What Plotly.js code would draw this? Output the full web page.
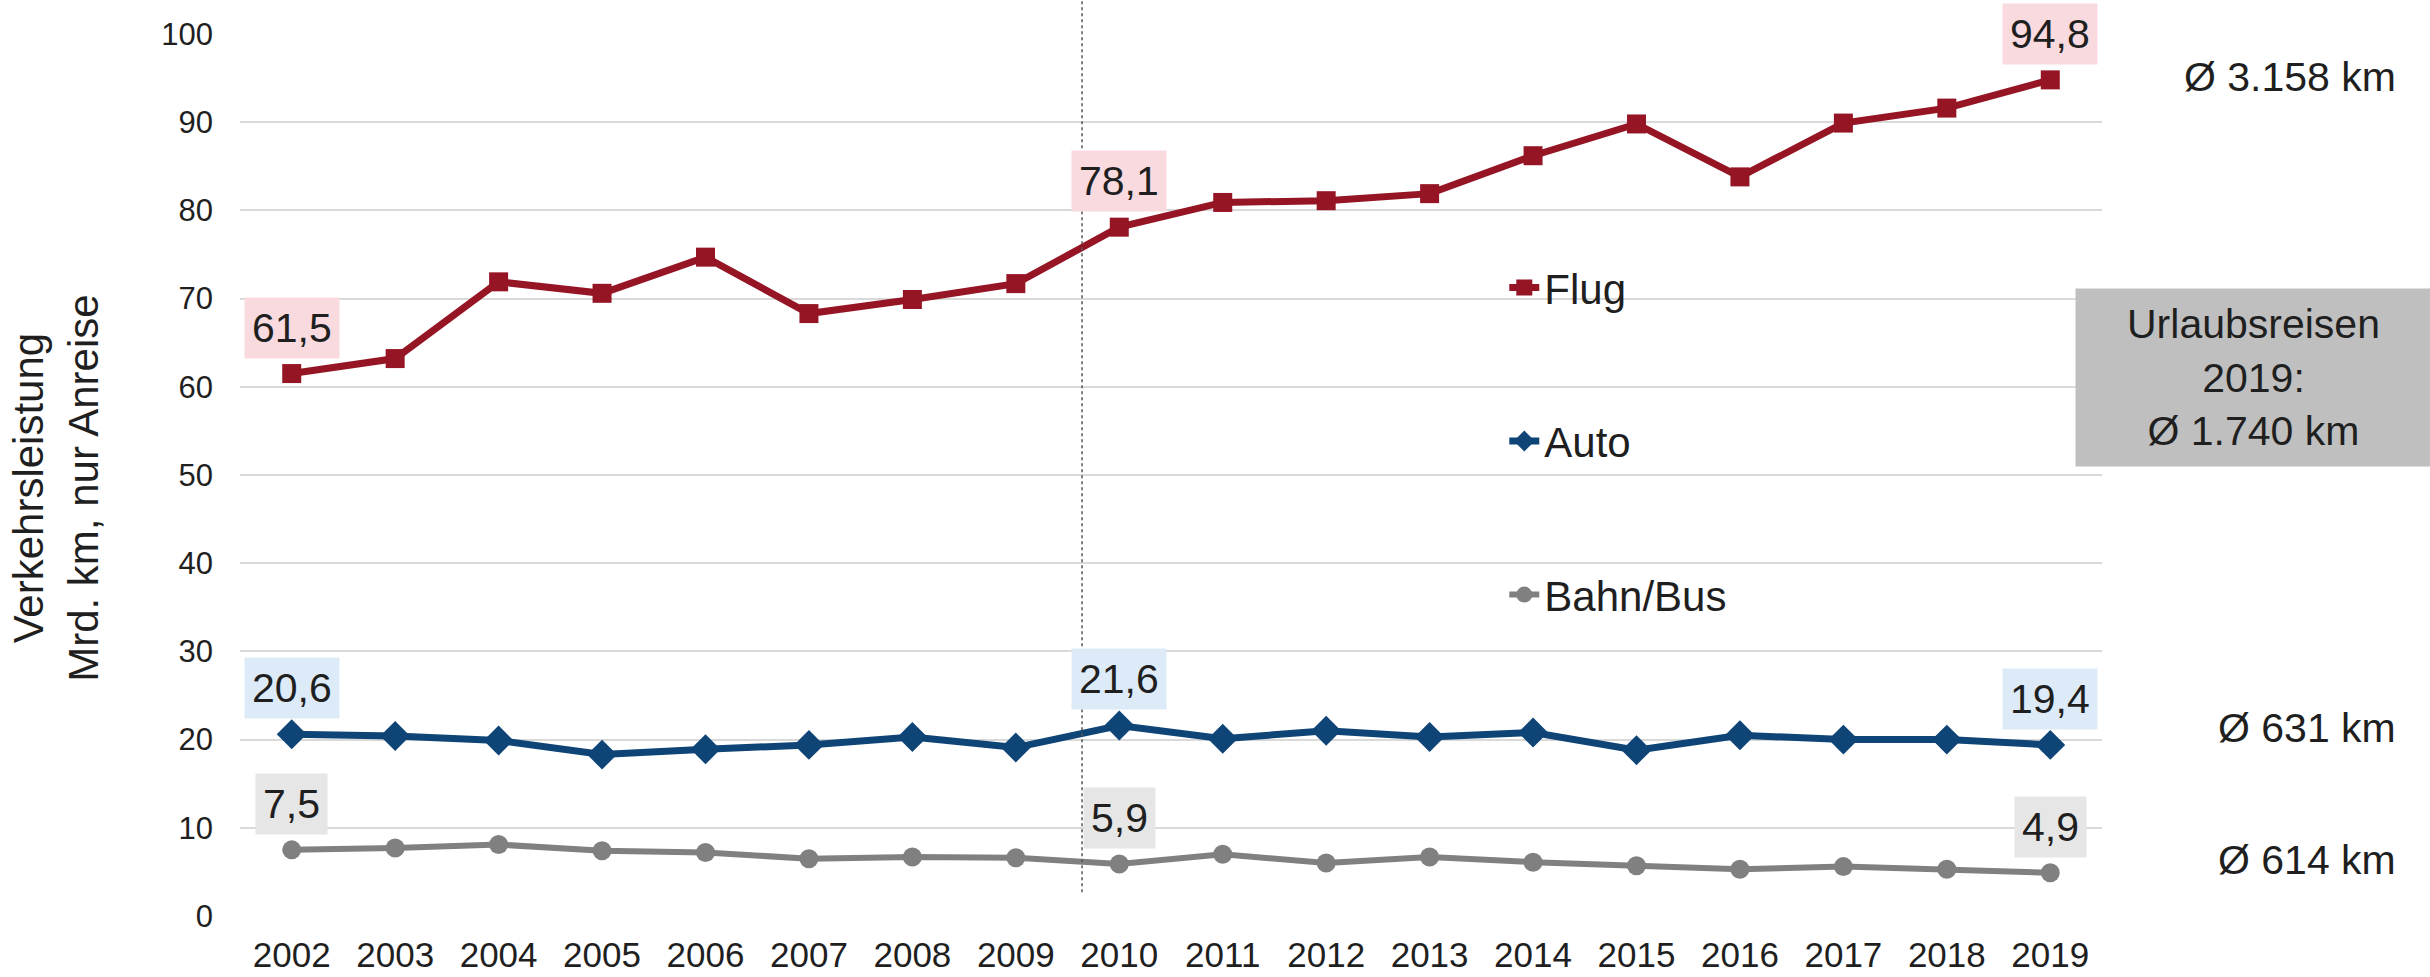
<!DOCTYPE html>
<html>
<head>
<meta charset="utf-8">
<script src="https://cdn.plot.ly/plotly-3.0.1.min.js"></script>
<style>
  html, body { margin: 0; padding: 0; background: #ffffff; }
  #chart { width: 2430px; height: 977px; }
</style>
</head>
<body>
<div id="chart"></div>
<script>
// Verkehrsleistung der Urlaubsreisen (nur Anreise), Mrd. km
const years = [2002, 2003, 2004, 2005, 2006, 2007, 2008, 2009, 2010,
               2011, 2012, 2013, 2014, 2015, 2016, 2017, 2018, 2019];
const flug = [61.5, 63.2, 71.9, 70.6, 74.7, 68.3, 69.9, 71.7, 78.1,
              80.9, 81.1, 81.9, 86.2, 89.8, 83.8, 89.9, 91.6, 94.8];
const auto = [20.6, 20.4, 19.9, 18.3, 18.9, 19.4, 20.3, 19.1, 21.6,
              20.1, 21.0, 20.3, 20.8, 18.8, 20.5, 20.0, 20.0, 19.4];
const bahnBus = [7.5, 7.7, 8.1, 7.4, 7.2, 6.5, 6.7, 6.6, 5.9,
                 7.0, 6.0, 6.7, 6.1, 5.7, 5.3, 5.6, 5.3, 4.9];
const yearLabels = years.map(String);
const yTicks = [0, 10, 20, 30, 40, 50, 60, 70, 80, 90, 100];
// years that carry a value label
const labelledYears = [2002, 2010, 2019];
// average distance per trip, by mode (right-hand notes)
const avgFlug = 'Ø 3.158 km';
const avgAuto = 'Ø 631 km';
const avgBahn = 'Ø 614 km';
const boxText = 'Urlaubsreisen<br>2019:<br>Ø 1.740 km';
const yTitle = 'Verkehrsleistung<br>Mrd. km, nur Anreise';
const splitYear = 2009.64;

const FONT = 'Liberation Sans, Arial, sans-serif';
const TEXT = '#1f1f1f';

const series = [
  { name: 'Flug', y: flug, color: '#951525', symbol: 'square', size: 19, width: 7, label: '#F9DADF' },
  { name: 'Auto', y: auto, color: '#0F4477', symbol: 'diamond', size: 23, width: 7, label: '#DDEBF8' },
  { name: 'Bahn/Bus', y: bahnBus, color: '#808080', symbol: 'circle', size: 19, width: 6, label: '#E6E6E6' }
];

const traces = series.map((s, i) => ({
  type: 'scatter',
  mode: 'lines+markers',
  name: s.name,
  legendgroup: 'g' + i,
  x: years,
  y: s.y,
  line: { color: s.color, width: s.width },
  marker: { color: s.color, symbol: s.symbol, size: s.size },
  hoverinfo: 'x+y'
}));

const fmt = v => v.toFixed(1).replace('.', ',');

const annotations = [];
series.forEach(s => {
  labelledYears.forEach(yr => {
    const idx = years.indexOf(yr);
    annotations.push({
      xref: 'x', yref: 'y', x: yr, y: s.y[idx],
      text: fmt(s.y[idx]),
      showarrow: false, yshift: 46,
      bgcolor: s.label, borderpad: 7,
      font: { family: FONT, size: 41, color: TEXT }
    });
  });
});

annotations.push(
  // y-axis title, placed left of the tick labels
  { xref: 'paper', yref: 'paper', x: -0.0985, y: 0.485, xanchor: 'center', yanchor: 'middle',
    text: yTitle, textangle: -90, showarrow: false,
    font: { family: FONT, size: 42, color: TEXT } },
  { xref: 'paper', yref: 'paper', x: 1.159, y: 0.951, xanchor: 'right', yanchor: 'middle',
    text: avgFlug, showarrow: false, font: { family: FONT, size: 41, color: TEXT } },
  { xref: 'paper', yref: 'paper', x: 1.159, y: 0.213, xanchor: 'right', yanchor: 'middle',
    text: avgAuto, showarrow: false, font: { family: FONT, size: 41, color: TEXT } },
  { xref: 'paper', yref: 'paper', x: 1.159, y: 0.0635, xanchor: 'right', yanchor: 'middle',
    text: avgBahn, showarrow: false, font: { family: FONT, size: 41, color: TEXT } },
  { xref: 'paper', yref: 'paper', x: 1.0814, y: 0.611, xanchor: 'center', yanchor: 'middle',
    text: boxText, showarrow: false, width: 353, height: 175, bgcolor: '#BFBFBF',
    align: 'center', font: { family: FONT, size: 41, color: TEXT } }
);

const layout = {
  width: 2430,
  height: 977,
  margin: { l: 240, r: 328, t: 34, b: 61 },
  paper_bgcolor: '#ffffff',
  plot_bgcolor: '#ffffff',
  font: { family: FONT, color: TEXT },
  showlegend: true,
  legend: {
    x: 0.679, y: 0.751, xanchor: 'left', yanchor: 'top',
    bgcolor: 'rgba(0,0,0,0)',
    font: { family: FONT, size: 42, color: TEXT },
    tracegroupgap: 96
  },
  xaxis: {
    range: [2001.5, 2019.5],
    tickmode: 'array', tickvals: years, ticktext: yearLabels,
    showgrid: false, zeroline: false, showline: false,
    ticks: '', ticklabelstandoff: 15,
    tickfont: { family: FONT, size: 35, color: TEXT }
  },
  yaxis: {
    range: [0, 100],
    tickmode: 'array', tickvals: yTicks,
    showgrid: true, gridcolor: '#D9D9D9', gridwidth: 2,
    zeroline: false, showline: false,
    ticks: '', ticklabelstandoff: 26,
    tickfont: { family: FONT, size: 31, color: TEXT }
  },
  shapes: [{
    type: 'line', xref: 'x', yref: 'paper',
    x0: splitYear, x1: splitYear, y0: 0.027, y1: 1.0385,
    line: { color: '#555555', width: 1.5, dash: 'dot' }
  }],
  annotations: annotations
};

Plotly.newPlot('chart', traces, layout, { displayModeBar: false, staticPlot: true });
</script>
</body>
</html>
